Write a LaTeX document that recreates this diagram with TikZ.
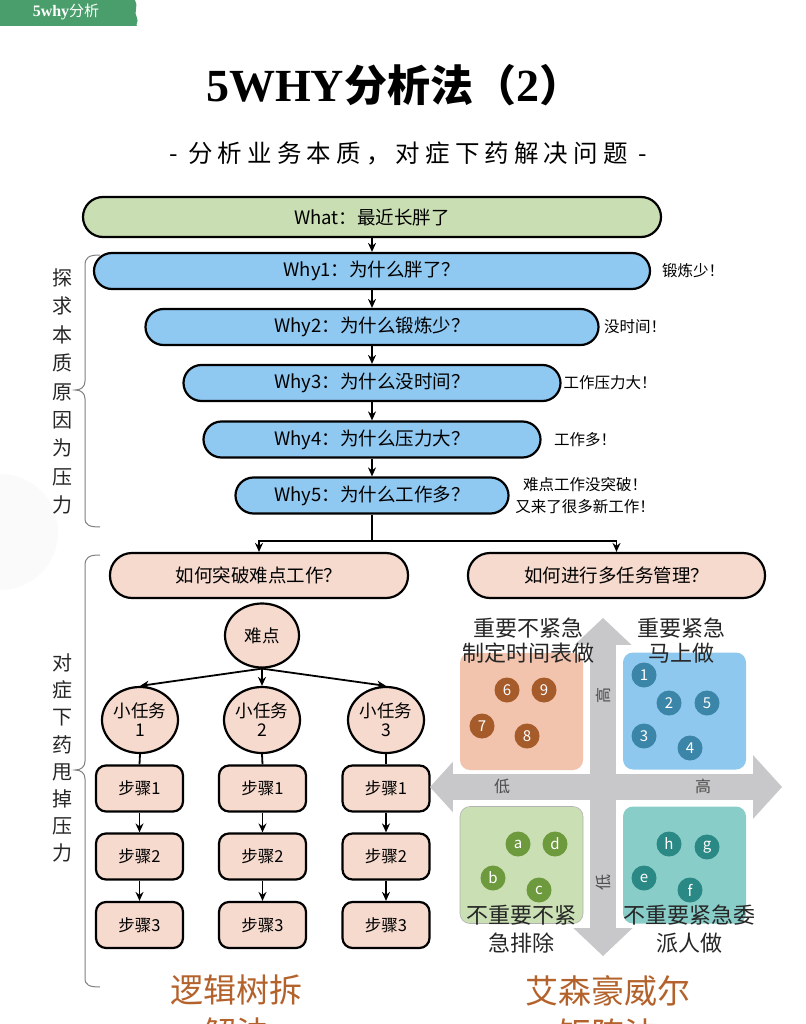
\documentclass[tikz,border=0pt]{standalone}
\usepackage{fontspec}
\setmainfont{Noto Sans CJK SC}
\newfontfamily\serifb{Liberation Serif}
\newfontfamily\subfont{Noto Sans CJK SC}[LetterSpace=21]
\usetikzlibrary{arrows.meta,shapes.geometric}
\definecolor{whatgreen}{HTML}{C9DEB3}
\definecolor{whyblue}{HTML}{8FC8F0}
\definecolor{pinkbox}{HTML}{F6DACE}
\definecolor{tabgreen}{HTML}{4A9E6B}
\definecolor{brownt}{HTML}{B4622B}
\definecolor{crossgray}{HTML}{C8C8CA}
\definecolor{qorange}{HTML}{F2C3AD}
\definecolor{qblue}{HTML}{8EC8EF}
\definecolor{qgreen}{HTML}{CADFB4}
\definecolor{qteal}{HTML}{89CDC9}
\definecolor{dbrown}{HTML}{A65B2A}
\definecolor{dblue}{HTML}{3B85A8}
\definecolor{dgreen}{HTML}{6E9A3E}
\definecolor{dteal}{HTML}{2A8985}
\tikzset{
  pill/.style={draw=black, line width=2.2pt, rounded corners=18pt, minimum height=36pt, inner sep=0pt, font=\fontsize{18.5}{20}\selectfont},
  whybox/.style={pill, fill=whyblue},
  pinkpill/.style={pill, fill=pinkbox, minimum height=45pt, rounded corners=22pt, font=\fontsize{18.5}{20}\selectfont},
  note/.style={inner sep=0pt, font=\fontsize{15.5}{22}\selectfont, align=center},
  oval/.style={ellipse, draw=black, line width=2.2pt, fill=pinkbox, inner sep=0pt, align=center, font=\fontsize{17.5}{19}\selectfont},
  stepbox/.style={draw=black, line width=2.2pt, fill=pinkbox, rounded corners=10pt, minimum width=87pt, minimum height=46pt, inner sep=0pt, font=\fontsize{16.5}{18}\selectfont},
  arr/.style={-{Stealth[length=9pt,width=8pt]}, line width=1.8pt},
  plain/.style={line width=1.8pt},
  brace/.style={draw=black!50, line width=1pt},
  vtext/.style={inner sep=0pt, align=center, text=black!85, font=\fontsize{20}{28.4}\selectfont},
  quad/.style={rounded corners=10pt, minimum width=123pt, minimum height=117pt, inner sep=0pt},
  pad/.style={fill=white},
  dot/.style={circle, minimum size=25pt, inner sep=0pt, text=white, font=\fontsize{15}{15}\selectfont},
  qtitle/.style={inner sep=0pt, align=center, text=black!85, font=\fontsize{22}{25}\selectfont},
  axl/.style={inner sep=0pt, text=black!70, font=\fontsize{16}{16}\selectfont},
  bigt/.style={inner sep=0pt, align=center, text=brownt, font=\fontsize{33}{43}\selectfont},
}
\begin{document}
\begin{tikzpicture}[x=1pt,y=-1pt]
\useasboundingbox (0,0) rectangle (805,1024);
\fill[white] (0,0) rectangle (805,1024);
% faint decoration
\fill[black!2] (0,532) circle (58);
% top tab
\fill[tabgreen] (0,0) -- (135,0) .. controls (139,6) and (133,12) .. (137,18) .. controls (139,22) and (135,24) .. (137,26) -- (0,26) -- cycle;
\node[text=white, inner sep=0pt] (tab) at (66,12) {{\serifb\bfseries\fontsize{16}{16}\selectfont 5why}{\fontsize{15}{15}\selectfont 分析}};
% title
\node[anchor=base, inner sep=0pt] (title) at (394,102) {{\serifb\bfseries\fontsize{46}{46}\selectfont 5WHY}{\bfseries\fontsize{43}{43}\selectfont 分析法（}{\serifb\bfseries\fontsize{46}{46}\selectfont 2}{\bfseries\fontsize{43}{43}\selectfont ）}};
\node[inner sep=0pt] (sub) at (408,153) {\subfont\fontsize{24.5}{24}\selectfont - 分析业务本质，对症下药解决问题 -};
% 5 why chain
\node[pill, fill=whatgreen, minimum width=578pt, minimum height=40pt, rounded corners=20pt] (what) at (372,217) {What：最近长胖了};
\node[whybox, minimum width=556pt] (why1) at (372,271) {Why1：为什么胖了？};
\node[whybox, minimum width=453pt] (why2) at (372,327) {Why2：为什么锻炼少？};
\node[whybox, minimum width=377pt] (why3) at (372,383) {Why3：为什么没时间？};
\node[whybox, minimum width=337pt] (why4) at (372,439.5) {Why4：为什么压力大？};
\node[whybox, minimum width=273pt] (why5) at (372,495.5) {Why5：为什么工作多？};
\node[note] (n1) at (693,271) {锻炼少！};
\node[note] (n2) at (635,327) {没时间！};
\node[note] (n3) at (610,383) {工作压力大！};
\node[note] (n4) at (585,439.5) {工作多！};
\node[note] (n5) at (585,496) {难点工作没突破！\\又来了很多新工作！};
\draw[arr] (what.south) -- (why1.north);
\draw[arr] (why1.south) -- (why2.north);
\draw[arr] (why2.south) -- (why3.north);
\draw[arr] (why3.south) -- (why4.north);
\draw[arr] (why4.south) -- (why5.north);
% split
\node[pinkpill, minimum width=298pt] (q1) at (259,575.5) {如何突破难点工作？};
\node[pinkpill, minimum width=297pt] (q2) at (616.5,575.5) {如何进行多任务管理？};
\coordinate (split) at (372,541);
\draw[plain] (why5.south) -- (split);
\draw[arr] (split) -| (q1.north);
\draw[arr] (split) -| (q2.north);
% braces
\draw[brace] (100,255) .. controls (89,255) and (85,257) .. (85,266) -- (85,381) .. controls (85,387) and (81,390) .. (75,390) .. controls (81,390) and (85,393) .. (85,399) -- (85,518) .. controls (85,525) and (89,527) .. (100,527);
\node[vtext] (vt1) at (62,391.5) {探\\求\\本\\质\\原\\因\\为\\压\\力};
\draw[brace] (100,555) .. controls (89,555) and (85,557) .. (85,566) -- (85,761) .. controls (85,767) and (81,770) .. (75,770) .. controls (81,770) and (85,773) .. (85,779) -- (85,978) .. controls (85,985) and (89,987) .. (100,987);
\node[vtext, font=\fontsize{20}{27.1}\selectfont] (vt2) at (62,758) {对\\症\\下\\药\\甩\\掉\\压\\力};
% logic tree
\node[oval, minimum width=74pt, minimum height=64pt] (nd) at (262,635.5) {难点};
\node[oval, minimum width=76pt, minimum height=66pt] (t1) at (140,720) {小任务\\1};
\node[oval, minimum width=76pt, minimum height=66pt] (t2) at (262,720) {小任务\\2};
\node[oval, minimum width=76pt, minimum height=66pt] (t3) at (386,720) {小任务\\3};
\draw[arr] (nd.south) -- (t1.north);
\draw[arr] (nd.south) -- (t2.north);
\draw[arr] (nd.south) -- (t3.north);
\foreach \c/\x in {1/139.5,2/262.5,3/386}{
  \node[stepbox] (s\c1) at (\x,788.5) {步骤1};
  \node[stepbox] (s\c2) at (\x,856.5) {步骤2};
  \node[stepbox] (s\c3) at (\x,925) {步骤3};
  \draw[plain] (t\c.south) -- (s\c1.north);
  \draw[arr] (s\c1.south) -- (s\c2.north);
  \draw[arr] (s\c2.south) -- (s\c3.north);
}
\node[bigt, anchor=north] (lt) at (236,975) {逻辑树拆\\解法};
% Eisenhower matrix
\fill[crossgray] (590,652) -- (567,652) -- (603,618) -- (639,652) -- (616,652) -- (616,922) -- (639,922) -- (603,956) -- (567,922) -- (590,922) -- cycle;
\fill[crossgray] (460,774) -- (460,754) -- (430,787) -- (460,820) -- (460,800) -- (752,800) -- (752,820) -- (782,787) -- (752,754) -- (752,774) -- cycle;
\fill[pad] (453,645) rectangle (590,774);
\fill[pad] (616,645) rectangle (753,774);
\fill[pad] (453,800) rectangle (590,928);
\fill[pad] (616,800) rectangle (753,928);
\node[quad, fill=qorange] (qtl) at (521.5,711.5) {};
\node[quad, fill=qblue] (qtr) at (684.5,711) {};
\node[quad, fill=qgreen, draw=black!30, line width=0.6pt] (qbl) at (521.5,865) {};
\node[quad, fill=qteal] (qbr) at (684.5,865) {};
\node[dot, fill=dbrown] (d6) at (507,690) {6};
\node[dot, fill=dbrown] (d9) at (544,690) {9};
\node[dot, fill=dbrown] (d7) at (482,726) {7};
\node[dot, fill=dbrown] (d8) at (527,736) {8};
\node[dot, fill=dblue] (d1) at (644,675) {1};
\node[dot, fill=dblue] (d2) at (669,703) {2};
\node[dot, fill=dblue] (d5) at (707,703) {5};
\node[dot, fill=dblue] (d3) at (644,736) {3};
\node[dot, fill=dblue] (d4) at (690,748) {4};
\node[dot, fill=dgreen] (da) at (518,844) {a};
\node[dot, fill=dgreen] (dd) at (555,844) {d};
\node[dot, fill=dgreen] (db) at (493,878) {b};
\node[dot, fill=dgreen] (dc) at (539,890) {c};
\node[dot, fill=dteal] (dh) at (669,844) {h};
\node[dot, fill=dteal] (dg) at (707,847) {g};
\node[dot, fill=dteal] (de) at (644,878) {e};
\node[dot, fill=dteal] (df) at (690,890) {f};
\node[qtitle] (tl) at (528,640.5) {重要不紧急\\制定时间表做};
\node[qtitle] (tr) at (681,640.5) {重要紧急\\马上做};
\node[qtitle, font=\fontsize{22}{28}\selectfont] (bl) at (521,929) {不重要不紧\\急排除};
\node[qtitle, font=\fontsize{22}{28}\selectfont] (br) at (689,929) {不重要紧急委\\派人做};
\node[axl, rotate=90] (ahi) at (603,695) {高};
\node[axl, rotate=90] (alo) at (603,882) {低};
\node[axl] (hlo) at (502,786) {低};
\node[axl] (hhi) at (703,786) {高};
\node[bigt, anchor=north] (rt) at (608,975) {艾森豪威尔\\矩阵法};
\end{tikzpicture}
\end{document}
